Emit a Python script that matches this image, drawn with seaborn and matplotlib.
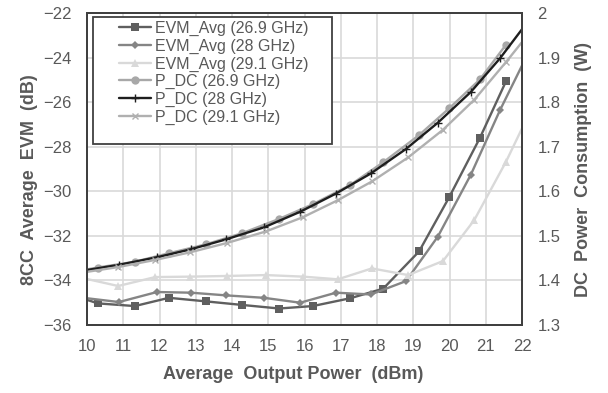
import pandas as pd
import seaborn as sns
import matplotlib.pyplot as plt
from matplotlib.patches import Rectangle

# measured output power (dBm) for each frequency
pout_269 = [9.3, 10.30, 11.32, 12.26, 13.28, 14.28, 15.30, 16.23, 17.26, 18.17, 19.16, 19.99, 20.84, 21.56]
pout_28 = [9.9, 10.88, 11.93, 12.87, 13.83, 14.88, 15.88, 16.87, 17.83, 18.80, 19.68, 20.59, 21.39, 22.2]
pout_291 = [9.9, 10.86, 11.88, 12.84, 13.86, 14.94, 15.96, 16.92, 17.86, 18.86, 19.82, 20.68, 21.56, 22.2]

# average EVM (dB)
evm_269 = [-34.5, -35.03, -35.15, -34.78, -34.94, -35.10, -35.26, -35.15, -34.80, -34.37, -32.70, -30.27, -27.60, -25.06]
evm_28 = [-34.78, -34.97, -34.52, -34.55, -34.67, -34.78, -35.00, -34.55, -34.63, -34.03, -32.03, -29.25, -26.37, -23.70]
evm_291 = [-33.9, -34.25, -33.85, -33.83, -33.80, -33.76, -33.83, -33.95, -33.46, -33.76, -33.13, -31.30, -28.67, -26.5]

# DC power consumption (W)
pdc_269 = [1.415, 1.429, 1.442, 1.461, 1.481, 1.506, 1.538, 1.571, 1.614, 1.665, 1.726, 1.786, 1.851, 1.929]
pdc_28 = [1.422, 1.435, 1.452, 1.470, 1.492, 1.519, 1.554, 1.595, 1.640, 1.695, 1.754, 1.823, 1.898, 1.985]
pdc_291 = [1.418, 1.430, 1.446, 1.463, 1.484, 1.510, 1.542, 1.580, 1.622, 1.676, 1.738, 1.805, 1.890, 1.955]

x_ticks = list(range(10, 23))
evm_ticks = list(range(-36, -21, 2))
pdc_ticks = [1.3, 1.4, 1.5, 1.6, 1.7, 1.8, 1.9, 2.0]
pdc_ticklabels = ["1.3", "1.4", "1.5", "1.6", "1.7", "1.8", "1.9", "2"]

sns.set_theme(style="whitegrid")
plt.rcParams['font.family'] = ['Liberation Sans', 'DejaVu Sans']

txt = '#595959'
fig = plt.figure(figsize=(6.08, 3.93), dpi=100)
ax1 = fig.add_axes([87 / 608, 1 - 325 / 393, 435 / 608, 312 / 393])
ax2 = ax1.twinx()

lw = 1.7


def draw(ax, x, y, color, marker, ms, label, mew=0.0):
    sns.lineplot(x=x, y=y, ax=ax, color=color, lw=lw, marker=marker, markersize=ms,
                 markeredgewidth=mew, markeredgecolor=color, markerfacecolor=color,
                 label=label, legend=False)


draw(ax1, pout_269, evm_269, '#5f5f5f', 's', 6, 'EVM_Avg (26.9 GHz)')
draw(ax1, pout_28, evm_28, '#858585', 'D', 4.5, 'EVM_Avg (28 GHz)')
draw(ax1, pout_291, evm_291, '#d9d9d9', '^', 6, 'EVM_Avg (29.1 GHz)')
draw(ax2, pout_269, pdc_269, '#a8a8a8', 'o', 6, 'P_DC (26.9 GHz)')
draw(ax2, pout_28, pdc_28, '#1e1e1e', '+', 6, 'P_DC (28 GHz)', mew=1.0)
draw(ax2, pout_291, pdc_291, '#b0b0b0', 'x', 5, 'P_DC (29.1 GHz)', mew=1.0)

ax1.set_xlim(10, 22)
ax1.set_ylim(-36, -22)
ax2.set_ylim(1.3, 2.0)
ax1.set_xticks(x_ticks)
ax1.set_yticks(evm_ticks)
ax2.set_yticks(pdc_ticks)
ax2.set_yticklabels(pdc_ticklabels)

ax1.grid(True, color='#d9d9d9', lw=1.2)
ax2.grid(False)
for ax in (ax1, ax2):
    ax.tick_params(length=0, labelsize=12, colors=txt)
    for s in ax.spines.values():
        s.set_color('#404040')
        s.set_linewidth(1.4)
ax1.tick_params(axis='y', pad=11)
ax1.tick_params(axis='x', pad=10)
ax2.tick_params(axis='y', pad=11)

ax1.set_xlabel('Average  Output Power  (dBm)', fontsize=13, fontweight='bold', color=txt)
ax1.set_ylabel('8CC  Average  EVM  (dB)', fontsize=13, fontweight='bold', color=txt)
ax2.set_ylabel('DC  Power  Consumption  (W)', fontsize=13, fontweight='bold', color=txt)
ax1.xaxis.set_label_coords(0.474, -0.131)
ax1.yaxis.set_label_coords(-0.113, 0.465)
ax2.yaxis.set_label_coords(1.122, 0.497)

# legend with square frame
h1, l1 = ax1.get_legend_handles_labels()
h2, l2 = ax2.get_legend_handles_labels()
ax2.add_patch(Rectangle((6 / 435, 181 / 312), 239 / 435, 127 / 312, transform=ax2.transAxes,
                        facecolor='white', edgecolor='#404040', lw=1.3, zorder=4.5))
leg = ax2.legend(h1 + h2, l1 + l2, loc='upper left', bbox_to_anchor=(32 / 435, 304 / 312),
                 frameon=False, borderaxespad=0, borderpad=0, fontsize=11.5,
                 handlelength=2.0, handletextpad=0.25, labelspacing=0.16)
for t in leg.get_texts():
    t.set_color(txt)

fig.savefig('out.png', dpi=100)
